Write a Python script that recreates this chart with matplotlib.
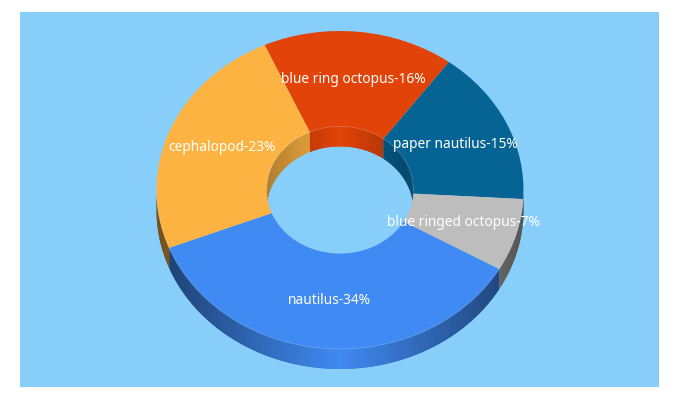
import numpy as np
import matplotlib
matplotlib.use('Agg')
import matplotlib.pyplot as plt

# slices in drawing order, clockwise
labels = ['nautilus', 'cephalopod', 'blue ring octopus', 'paper nautilus', 'blue ringed octopus']
percents = [34, 23, 16, 15, 7]
colors = ['#408AF3', '#FDB341', '#E24308', '#056494', '#BDBDBD']

W, H = 680, 400
CX, CY, RX, RY = 340.0, 190.0, 183.5, 159.0
DEPTH = 20 / RY
HOLE = 0.4
BG = '#87CEFA'

# label centres in pixels
label_px = [(329.5, 300.5), (222, 147.5), (353.5, 79.5), (455.5, 144.5), (463, 222.5)]


def to_data(px, py):
    return (px - CX) / RX, (CY - py) / RY


def shade(color, factor):
    rgb = np.array(matplotlib.colors.to_rgb(color))
    return tuple(rgb * factor)


def draw_wall(ax, wedge, radius, strength, want_lower):
    """Side of one slice as thin strips, darker towards the left and right ends."""
    angles = np.arange(wedge.theta1, wedge.theta2 + 1.0, 1.0)
    angles[-1] = wedge.theta2
    for a0, a1 in zip(angles[:-1], angles[1:]):
        mid = np.deg2rad((a0 + a1) / 2)
        if (np.sin(mid) < 0) != want_lower:
            continue
        # run each strip a bit into the next one so no seams show
        t = np.deg2rad(np.linspace(a0, min(a1 + 1.0, wedge.theta2), 4))
        x = radius * np.cos(t)
        y = radius * np.sin(t)
        c = shade(wedge.get_facecolor()[:3], 1 - strength * abs(np.cos(mid)))
        ax.fill(np.r_[x, x[::-1]], np.r_[y, y[::-1] - DEPTH], color=c, lw=0, zorder=1)


def draw_rim(ax, wedge, radius, lower):
    """Faint light line where the top face meets the wall."""
    t = np.deg2rad(np.linspace(wedge.theta1, wedge.theta2, 200))
    t = t[(np.sin(t) < 0) == lower]
    if len(t) > 1:
        ax.plot(radius * np.cos(t), radius * np.sin(t), color='white', alpha=0.15, lw=0.7, zorder=4)


fig = plt.figure(figsize=(W / 100, H / 100), dpi=100, facecolor='white')
ax = fig.add_axes([20 / W, 1 - 387 / H, 639 / W, 375 / H])

wedges, _ = ax.pie(percents, colors=colors, startangle=-29.8, counterclock=False,
                   radius=1.0, frame=True,
                   wedgeprops=dict(width=1 - HOLE, linewidth=0, zorder=3))

for w in wedges:
    draw_wall(ax, w, 1.0, 0.55, True)
    draw_wall(ax, w, HOLE, 0.3, False)
    draw_rim(ax, w, 1.0, True)
    draw_rim(ax, w, HOLE, False)

ax.set_aspect('auto')
ax.set_facecolor(BG)
ax.set_xlim((20 - CX) / RX, (659 - CX) / RX)
ax.set_ylim((CY - 387) / RY, (CY - 12) / RY)
ax.set_xticks([])
ax.set_yticks([])
for spine in ax.spines.values():
    spine.set_visible(False)

for name, pct, (px, py) in zip(labels, percents, label_px):
    x, y = to_data(px, py)
    ax.text(x, y, f'{name}-{pct}%', color='white', fontsize=9.9, family='Noto Sans',
            ha='center', va='center', zorder=5)

fig.savefig('out.png', dpi=100)
